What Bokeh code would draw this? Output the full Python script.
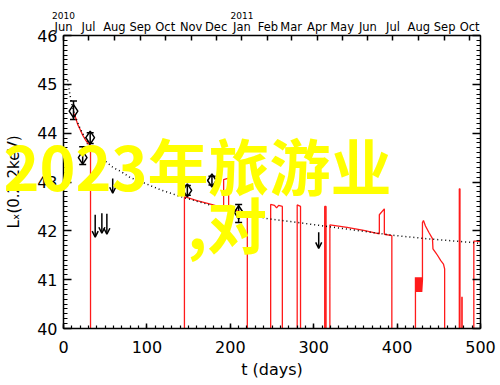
from bokeh.plotting import figure
from bokeh.layouts import column
from bokeh.models import (Range1d, LinearAxis, FixedTicker, SingleIntervalTicker,
                          ColumnDataSource, Whisker, TeeHead, Arrow, OpenHead, Label)
from bokeh.embed import file_html
from bokeh.resources import INLINE

nan = float("nan")

# ---- data ----
# red light curve (t in days, log Lx); NaN separates segments
red_t = [13, 14.4, 17, 20.4, 23, 26.4, 29, 31.6, 32.4, 32.4, nan,
         145, 145, 160, 175, 192, 192, 198, 198, 210, 220.4, 220.4, nan,
         248.4, 248.4, 253, 255.5, 258, 262.4, 262.4, nan,
         280.2, 280.2, 284.2, 284.2, nan,
         313.2, 313.2, 314.8, 314.8, nan,
         319.4, 319.4, 340, 360, 378.7, 378.7, 384.7, 384.7, 393.7, 393.7, nan,
         422, 422, 422.5, 423, 423.5, 424, 424.5, 425, 425.5, 426, 426.5, 427, 427.5,
         428, 428.5, 429, 429.5, 430.4, 430.4, 431.6, 434, 438, 442.4, 443, 446,
         448.4, 452.4, 455.6, 457, 457, nan,
         474.6, 474.6, 475.4, 475.4, nan,
         477.6, 477.6, 478.0, 478.0, nan,
         492.0, 492.0, 495, 500]
red_L = [44.40, 44.32, 44.18, 44.06, 43.96, 43.86, 43.80, 43.77, 43.75, 40.0, nan,
         40.0, 42.70, 42.62, 42.55, 42.47, 43.05, 43.08, 42.45, 42.40, 42.34, 40.0, nan,
         40.0, 42.54, 42.52, 42.47, 42.52, 42.50, 40.0, nan,
         40.0, 42.53, 42.50, 40.0, nan,
         40.0, 42.50, 42.50, 40.0, nan,
         40.0, 42.12, 42.07, 42.01, 41.94, 42.33, 42.45, 41.93, 41.90, 40.0, nan,
         40.0, 41.05, 40.75, 41.05, 40.75, 41.05, 40.75, 41.05, 40.75, 41.05, 40.75,
         41.05, 40.75, 41.05, 40.75, 41.05, 40.75, 41.00, 42.17, 42.21, 42.10, 41.97,
         41.84, 41.63, 41.56, 41.50, 41.39, 41.32, 41.22, 40.0, nan,
         40.0, 42.86, 42.86, 40.0, nan,
         40.0, 40.64, 40.64, 40.0, nan,
         40.0, 41.79, 41.79, 41.78]

# dotted model curve
model_t = [5, 6.5, 8, 10, 12, 15, 20, 25, 30, 40, 48.4, 60, 68.4, 80, 92.4, 116.4,
           140.4, 192.4, 244.5, 272.5, 320.5, 394.6, 434.6, 490.6, 500]
model_L = [45.08, 44.92, 44.76, 44.59, 44.46, 44.30, 44.09, 43.93, 43.80, 43.59,
           43.45, 43.29, 43.22, 43.09, 43.01, 42.84, 42.70, 42.45, 42.25, 42.19,
           42.08, 41.91, 41.84, 41.76, 41.74]

# detections (diamonds with error bars)
det_t = [12, 23, 32, 148.5, 178, 210]
det_L = [44.45, 43.50, 43.91, 42.83, 43.03, 42.38]
det_hi = [44.66, 43.72, 44.01, 42.93, 43.12, 42.54]
det_lo = [44.28, 43.36, 43.79, 42.73, 42.94, 42.17]

# upper limits (arrows)
ul_t = [38, 46, 52, 59, 306]
ul_top = [42.33, 42.36, 42.35, 43.07, 41.97]
ul_bot = [41.87, 41.95, 41.93, 42.77, 41.64]

# axis ticks
x_ticks = [0, 100, 200, 300, 400, 500]
y_ticks = [40, 41, 42, 43, 44, 45, 46]
month_days = [0, 30, 61, 92, 122, 153, 183, 214, 245, 273, 304, 334, 365, 395, 426, 457, 487]
month_names = ["Jun", "Jul", "Aug", "Sep", "Oct", "Nov", "Dec", "Jan", "Feb", "Mar",
               "Apr", "May", "Jun", "Jul", "Aug", "Sep", "Oct"]
year_days = [0, 214]
year_names = ["2010", "2011"]

title_line1 = "2023年旅游业"
title_line2 = ",对"

# ---- main figure ----
FONT = "DejaVu Sans"
p = figure(width=500, height=385, output_backend="svg", toolbar_location=None,
           x_range=Range1d(0, 500), y_range=Range1d(40, 46),
           x_axis_label="t (days)", y_axis_label="Lₓ(0.2-2keV)",
           min_border_left=63, min_border_right=20, min_border_top=35, min_border_bottom=57)
p.xgrid.visible = False
p.ygrid.visible = False
p.outline_line_color = None
p.background_fill_color = "white"

def style_axis(ax, tick_in=8, minor_in=4):
    ax.axis_line_color = "black"
    ax.axis_line_width = 1.5
    ax.major_tick_in = tick_in
    ax.major_tick_out = 0
    ax.minor_tick_in = minor_in
    ax.minor_tick_out = 0
    ax.major_tick_line_color = "black"
    ax.major_tick_line_width = 1.5
    ax.minor_tick_line_color = "black"
    ax.minor_tick_line_width = 1.2
    ax.major_label_text_font = FONT
    ax.major_label_text_color = "black"
    ax.axis_label_text_font = FONT
    ax.axis_label_text_font_style = "normal"
    ax.axis_label_text_color = "black"

xa = p.xaxis[0]
xa.ticker = FixedTicker(ticks=x_ticks, minor_ticks=list(range(0, 501, 10)))
style_axis(xa, 5, 3)
xa.major_label_text_font_size = "16px"
xa.major_label_standoff = 12
xa.axis_label_text_font_size = "16px"
xa.axis_label_standoff = 4

ya = p.yaxis[0]
ya.ticker = SingleIntervalTicker(interval=1, num_minor_ticks=10)
style_axis(ya, 8, 4)
ya.major_label_text_font_size = "16px"
ya.major_label_standoff = 6
ya.axis_label_text_font_size = "15px"
ya.axis_label_standoff = 11

ra = LinearAxis(ticker=SingleIntervalTicker(interval=1, num_minor_ticks=10))
style_axis(ra, 8, 4)
ra.major_label_text_color = None
ra.major_label_text_font_size = "8px"
ra.major_label_standoff = 0
p.add_layout(ra, "right")

ma = LinearAxis(ticker=FixedTicker(ticks=month_days),
                major_label_overrides={d: m for d, m in zip(month_days, month_names)})
style_axis(ma, 5, 0)
ma.minor_tick_line_color = None
ma.major_label_text_font_size = "11.5px"
ma.major_label_standoff = 2
p.add_layout(ma, "above")

yra = LinearAxis(ticker=FixedTicker(ticks=year_days),
                 major_label_overrides={d: y for d, y in zip(year_days, year_names)})
style_axis(yra, 0, 0)
yra.axis_line_color = None
yra.major_tick_line_color = None
yra.minor_tick_line_color = None
yra.major_label_text_font_size = "9px"
yra.major_label_standoff = -2
p.add_layout(yra, "above")

p.line(red_t, red_L, line_color="#ff1a1a", line_width=1.3)
p.line(model_t, model_L, line_color="black", line_width=1.5, line_dash="1 3")

det = ColumnDataSource(dict(t=det_t, L=det_L, hi=det_hi, lo=det_lo))
p.add_layout(Whisker(source=det, base="t", upper="hi", lower="lo", dimension="height",
                     line_color="black", line_width=1.5,
                     upper_head=TeeHead(size=7, line_color="black", line_width=1.5),
                     lower_head=TeeHead(size=7, line_color="black", line_width=1.5)))
p.scatter("t", "L", source=det, marker="diamond", size=13, fill_color=None,
          line_color="black", line_width=1.5)

ul = ColumnDataSource(dict(t=ul_t, top=ul_top, bot=ul_bot))
p.add_layout(Arrow(source=ul, x_start="t", y_start="top", x_end="t", y_end="bot",
                   line_color="black", line_width=1.5,
                   end=OpenHead(size=6, line_color="black", line_width=1.5)))

# ---- transparent overlay strip carrying the yellow text ----
OV_TOP, OV_H = 60, 260
ov = figure(width=500, height=OV_H, output_backend="svg", toolbar_location=None,
            x_range=Range1d(0, 500), y_range=Range1d(0, OV_H),
            x_axis_location=None, y_axis_location=None,
            min_border=0, min_border_left=0, min_border_right=0,
            min_border_top=0, min_border_bottom=0,
            background_fill_color=None, border_fill_color=None,
            outline_line_color=None, margin=(OV_TOP - 385, 0, 0, 0))
ov.grid.visible = False
for fig in (p, ov):
    if "frame_align" in fig.properties():
        fig.frame_align = False
ov.add_layout(Label(x=3, y=OV_H - (164 - OV_TOP), text=title_line1,
                    text_font="Noto Sans CJK SC", text_font_style="bold",
                    text_font_size="61px", text_color="#ffff00",
                    text_align="left", text_baseline="alphabetic"))
ov.add_layout(Label(x=187, y=OV_H - (222 - OV_TOP), text=title_line2,
                    text_font="Noto Sans CJK SC", text_font_style="bold",
                    text_font_size="60px", text_color="#ffff00",
                    text_align="left", text_baseline="alphabetic"))

layout = column(p, ov, spacing=0)
open("out.html", "w").write(file_html(layout, INLINE))
